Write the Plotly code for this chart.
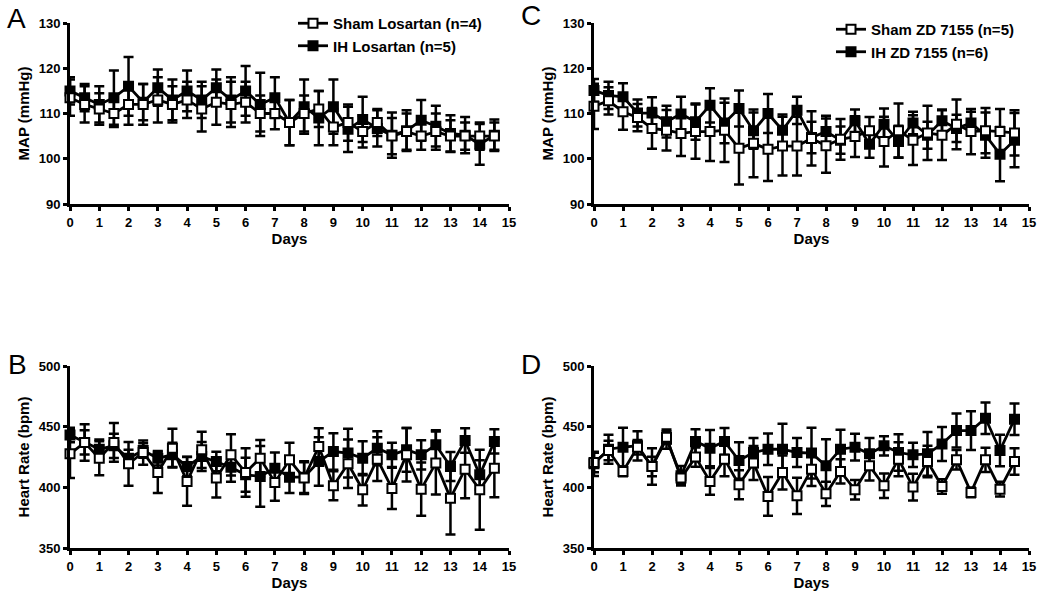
import plotly.graph_objects as go
from plotly.subplots import make_subplots

# Days (every half day)
days = [i * 0.5 for i in range(30)]

# Panel A - MAP, Losartan
sham_los_map = [113.5, 112, 111, 110, 112, 112, 113, 112, 113, 111, 112.5, 112, 112.5, 110, 110,
                108, 110, 111, 107, 108, 106, 108, 105, 106, 105, 106, 105, 105, 105, 105]
sham_los_map_err = [4, 4, 3.5, 3, 4.5, 4.5, 5, 4, 4, 5, 5, 5, 4.5, 4, 3.5,
                    5, 4, 4, 4, 4, 3.5, 3, 4, 4, 3, 4, 3.5, 3, 3, 3]
ih_los_map = [115, 113.5, 112, 113.5, 116, 112.5, 115.7, 113, 115, 113, 115.7, 113, 115, 112, 113.5,
              108, 111.5, 109, 111.5, 106.5, 108.7, 106.7, 105.2, 106.2, 108.5, 107.2, 105.6, 105.2, 103.2, 105.2]
ih_los_map_err = [3, 3, 4, 6, 6.5, 4, 4, 4.5, 4.5, 4, 4, 5, 5.5, 7, 4.5,
                  5, 6, 6, 6, 5, 5, 4, 5, 4.5, 4.5, 4.5, 4, 4, 4.5, 3.5]

# Panel B - Heart rate, Losartan
sham_los_hr = [427.6, 436.9, 424, 437, 419.4, 428.7, 412.3, 432.3, 404.9, 430.9, 407.6, 426.8, 412.3, 424, 404,
               422.7, 407.6, 433.6, 401.3, 419.4, 398, 423.2, 399.1, 426.8, 398.5, 420, 391.1, 415, 398, 415.8]
sham_los_hr_err = [20, 15, 14, 16, 18, 10, 17, 16, 20, 15, 16, 17, 20, 15, 15,
                   14, 13, 15, 12, 20, 13, 18, 17, 22, 22, 26, 30, 24, 33, 24]
ih_los_hr = [443.2, 437, 431.4, 434.2, 424, 430.4, 424, 426.8, 417.2, 425.4, 421.3, 416.6, 410.3, 409, 415.8,
             408.4, 408.4, 421.3, 429.5, 428.2, 424, 432.3, 426.8, 430.9, 426.8, 435, 417.2, 438.6, 410.3, 437.8]
ih_los_hr_err = [6, 10, 8, 10, 7, 6, 6, 10, 8, 12, 8, 12, 14, 25, 13,
                 13, 13, 20, 15, 20, 14, 14, 10, 18, 12, 12, 12, 10, 12, 10]

# Panel C - MAP, ZD 7155
sham_zd_map = [111.6, 112.8, 110.4, 109.1, 106.7, 106.3, 105.6, 106, 106, 106.3, 102.3, 103.4, 102.1, 102.8, 102.8,
               104.5, 102.9, 104.3, 104.9, 106.2, 103.8, 106.2, 104.1, 105.7, 105.2, 107.6, 106, 106.2, 106, 105.7]
sham_zd_map_err = [5, 3, 4, 3, 4.5, 4.5, 5, 6, 6.5, 7, 8, 7.5, 7, 6.5, 6.5,
                   6, 6, 4.5, 4.5, 3, 5.5, 6, 5.5, 6, 5.5, 5.5, 5, 5, 5, 5]
ih_zd_map = [115.1, 114, 113.7, 110.1, 110.1, 108.2, 109.9, 108.2, 111.8, 107.9, 111.1, 106.2, 110, 106.3, 110.7,
             104.7, 106, 104.1, 108.4, 103.2, 107.6, 103.8, 107.9, 105.2, 108.4, 106.7, 107.9, 105.2, 101, 104.1]
ih_zd_map_err = [2.5, 3, 3, 3, 3.5, 3.5, 3.8, 4, 3.8, 4.5, 4, 4, 4.3, 3.5, 3,
                 3.5, 3.5, 3, 2.5, 3, 3.5, 3.5, 2.5, 3, 2.5, 3, 2.5, 5, 6, 6]

# Panel D - Heart rate, ZD 7155
sham_zd_hr = [420.5, 430.4, 413.1, 433.1, 417.2, 441.3, 407.6, 424.9, 404.9, 423.2, 402.1, 420, 392.5, 412.3, 393,
              415, 394.7, 413.1, 398, 417.7, 401.3, 423.2, 400.2, 421.3, 400.7, 422.7, 395.8, 422.7, 398.5, 421.3]
sham_zd_hr_err = [8, 8, 4, 6, 8, 5, 5, 8, 11, 14, 12, 14, 16, 14, 15,
                  14, 10, 10, 8, 12, 10, 14, 11, 13, 6, 8, 4, 10, 6, 11]
ih_zd_hr = [419.4, 431.4, 433.1, 434.2, 417.2, 439.7, 409.5, 437.8, 432.3, 437.8, 422.1, 428.7, 431.4, 431.4, 428.7,
            428.2, 417.7, 431.4, 433.1, 427.6, 434.2, 428.7, 426.8, 427.6, 435.8, 446.8, 446.8, 457, 430.4, 456.1]
ih_zd_hr_err = [10, 12, 16, 12, 15, 8, 8, 10, 15, 11, 15, 12, 13, 21, 12,
                21, 22, 16, 11, 13, 8, 15, 10, 18, 14, 14, 16, 13, 13, 13]

FONT = "Liberation Sans, Arial, sans-serif"

fig = make_subplots(rows=2, cols=2)


def add_pair(row, col, sham, sham_err, ih, ih_err, names, legend):
    for y, err, name, fill in [(ih, ih_err, names[1], "black"), (sham, sham_err, names[0], "white")]:
        fig.add_trace(go.Scatter(
            x=days, y=y, name=name, mode="lines+markers",
            line=dict(color="black", width=2.8),
            marker=dict(symbol="square", size=9, color=fill, line=dict(color="black", width=2)),
            error_y=dict(type="data", array=err, visible=True, color="black", thickness=2.5, width=5),
            cliponaxis=False,
            legend=legend,
            showlegend=legend is not None,
        ), row=row, col=col)


add_pair(1, 1, sham_los_map, sham_los_map_err, ih_los_map, ih_los_map_err,
         ["Sham Losartan (n=4)", "IH Losartan (n=5)"], "legend")
add_pair(2, 1, sham_los_hr, sham_los_hr_err, ih_los_hr, ih_los_hr_err,
         ["Sham", "IH"], None)
add_pair(1, 2, sham_zd_map, sham_zd_map_err, ih_zd_map, ih_zd_map_err,
         ["Sham ZD 7155 (n=5)", "IH ZD 7155 (n=6)"], "legend2")
add_pair(2, 2, sham_zd_hr, sham_zd_hr_err, ih_zd_hr, ih_zd_hr_err,
         ["Sham", "IH"], None)

W, H = 1050, 598
xdoms = [(70 / W, 509 / W), (594 / W, 1029 / W)]
ydoms = [(1 - 204 / H, 1 - 23 / H), (1 - 548 / H, 1 - 366 / H)]

axis_common = dict(
    showline=True, linecolor="black", linewidth=3, mirror=False,
    ticks="outside", ticklen=4, tickwidth=2.5, tickcolor="black",
    showgrid=False, zeroline=False,
    tickfont=dict(family=FONT, size=13, color="black", weight="bold"),
    title_font=dict(family=FONT, size=15, color="black", weight="bold"),
)

for r in (1, 2):
    for c in (1, 2):
        fig.update_xaxes(axis_common, domain=xdoms[c - 1], range=[0, 15], tick0=0, dtick=1,
                         title_text="Days", title_standoff=4, row=r, col=c)
        if r == 1:
            fig.update_yaxes(axis_common, domain=ydoms[0], range=[90, 130], tick0=90, dtick=10,
                             title_text="MAP (mmHg)", title_standoff=6, row=r, col=c)
        else:
            fig.update_yaxes(axis_common, domain=ydoms[1], range=[350, 500], tick0=350, dtick=50,
                             title_text="Heart Rate (bpm)", title_standoff=6, row=r, col=c)

legend_style = dict(
    bgcolor="rgba(0,0,0,0)", borderwidth=0, traceorder="reversed",
    font=dict(family=FONT, size=15, color="black", weight="bold"),
    itemwidth=30, tracegroupgap=0, yanchor="top", xanchor="left",
)

fig.update_layout(
    width=W, height=H,
    margin=dict(l=0, r=0, t=0, b=0, autoexpand=False),
    paper_bgcolor="white", plot_bgcolor="white",
    legend=dict(legend_style, x=293 / W, y=1 - 7 / H),
    legend2=dict(legend_style, x=831 / W, y=1 - 13 / H),
)

for letter, x, y in [("A", 5, 19), ("C", 519, 16), ("B", 6, 364), ("D", 519, 364)]:
    fig.add_annotation(text=letter, x=x / W, y=1 - y / H, xref="paper", yref="paper",
                       xanchor="left", yanchor="middle", showarrow=False,
                       font=dict(family=FONT, size=28, color="black"))

# page body margin would push the figure 8px off the window
fig.write_html("out.html", config={"displayModeBar": False},
               post_script="document.body.style.margin='0';")
